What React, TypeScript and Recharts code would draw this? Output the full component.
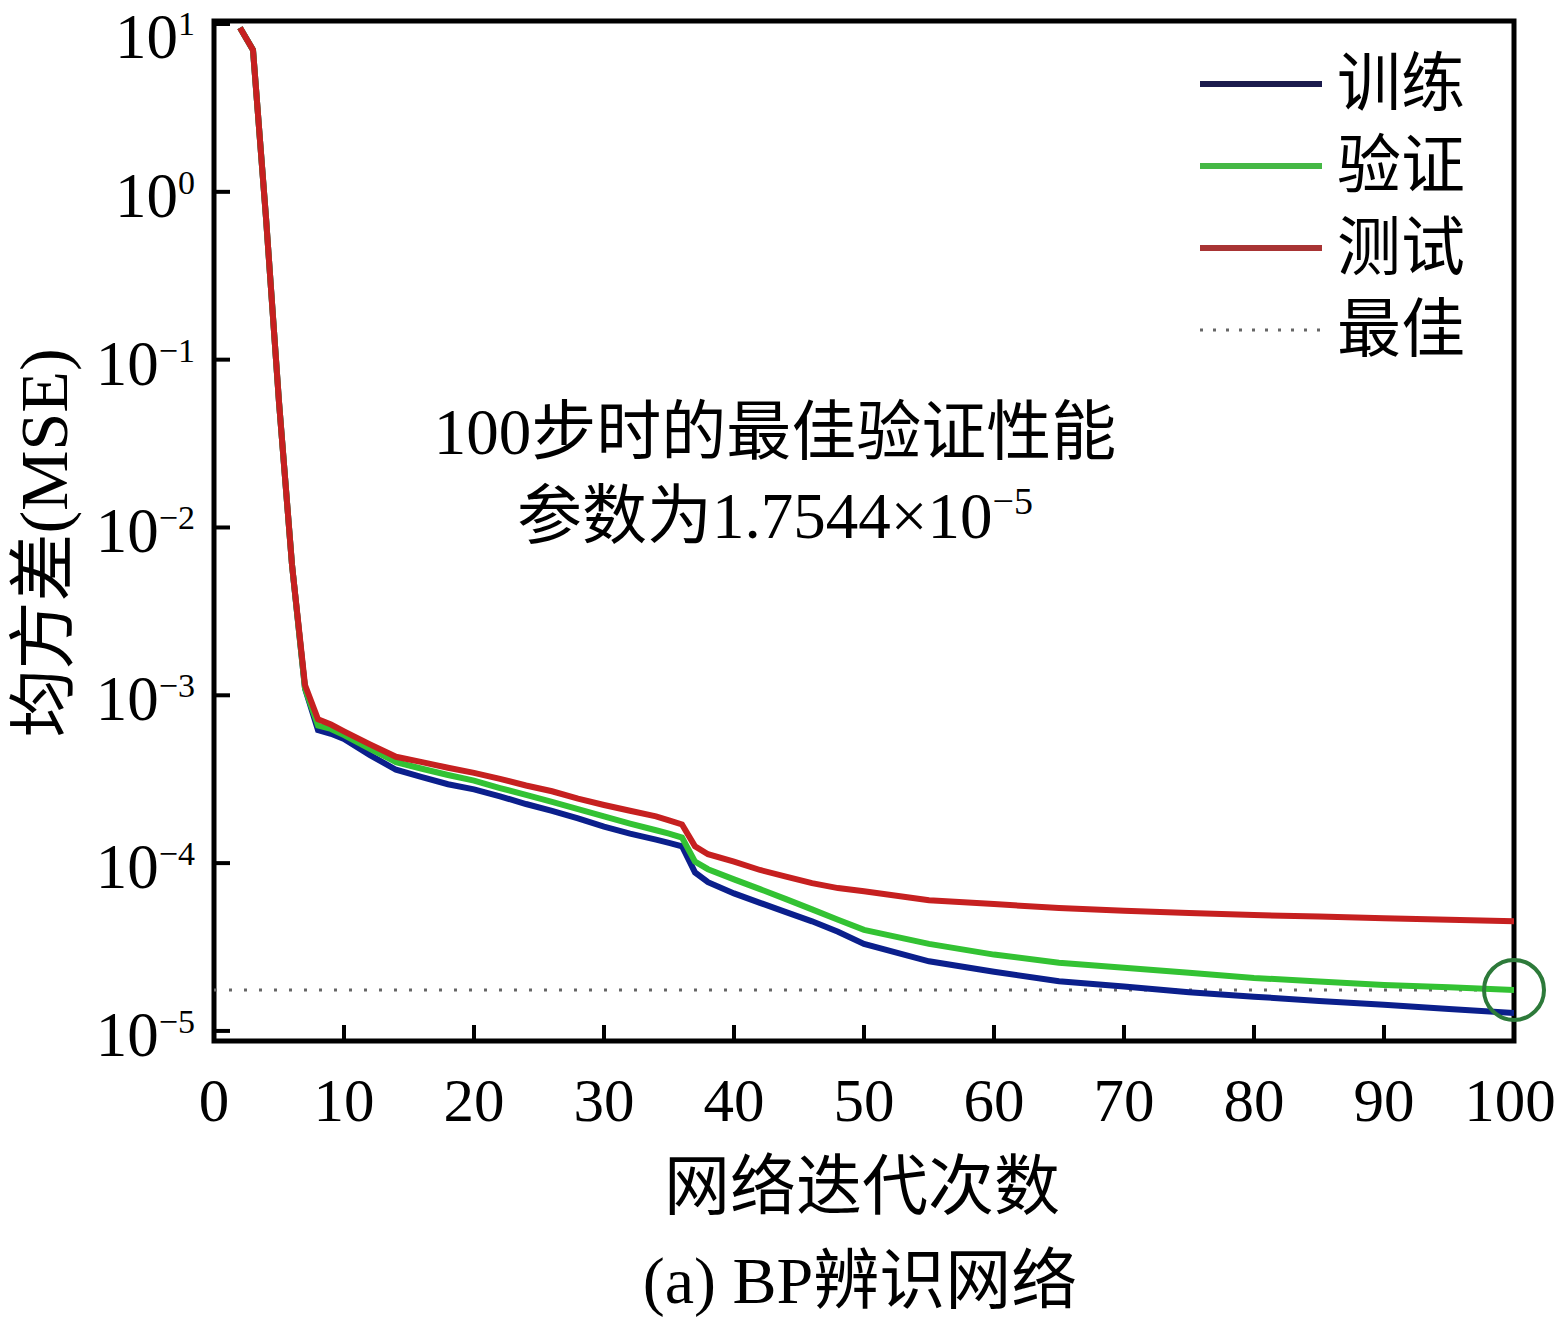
import React from 'react';
import { LineChart, Line, XAxis, YAxis, ReferenceLine, ReferenceDot, ReferenceArea } from 'recharts';

// epochs and MSE
const epochs = [2, 3, 4, 5, 6, 7, 8, 9, 10, 12, 14, 16, 18, 20, 22, 24, 26, 28, 30, 32, 34, 35, 36, 37, 38, 40, 42, 44, 46, 48, 50, 55, 60, 65, 70, 75, 80, 85, 90, 95, 100];

const trainMse = [9.5, 7.0, 0.7, 0.056, 0.006, 0.0011, 6.2e-4, 5.9e-4, 5.5e-4, 4.4e-4, 3.6e-4, 3.25e-4, 2.95e-4, 2.75e-4, 2.5e-4, 2.25e-4, 2.05e-4, 1.85e-4, 1.65e-4, 1.5e-4, 1.38e-4, 1.32e-4, 1.26e-4, 8.8e-5, 7.7e-5, 6.6e-5, 5.8e-5, 5.1e-5, 4.5e-5, 3.9e-5, 3.3e-5, 2.6e-5, 2.25e-5, 1.98e-5, 1.84e-5, 1.7e-5, 1.6e-5, 1.51e-5, 1.43e-5, 1.35e-5, 1.28e-5];

const validMse = [9.5, 7.0, 0.7, 0.056, 0.006, 0.0011, 6.6e-4, 6.3e-4, 5.8e-4, 4.8e-4, 4.0e-4, 3.65e-4, 3.35e-4, 3.1e-4, 2.8e-4, 2.55e-4, 2.32e-4, 2.1e-4, 1.9e-4, 1.72e-4, 1.57e-4, 1.5e-4, 1.42e-4, 1.02e-4, 9.2e-5, 8.0e-5, 7.0e-5, 6.1e-5, 5.3e-5, 4.6e-5, 4.0e-5, 3.3e-5, 2.85e-5, 2.55e-5, 2.38e-5, 2.22e-5, 2.07e-5, 1.97e-5, 1.88e-5, 1.82e-5, 1.7544e-5];

const testMse = [9.5, 7.0, 0.7, 0.056, 0.006, 0.00115, 7.2e-4, 6.7e-4, 6.1e-4, 5.1e-4, 4.3e-4, 4.0e-4, 3.7e-4, 3.45e-4, 3.18e-4, 2.9e-4, 2.68e-4, 2.42e-4, 2.22e-4, 2.05e-4, 1.9e-4, 1.8e-4, 1.7e-4, 1.26e-4, 1.13e-4, 1.02e-4, 9.1e-5, 8.3e-5, 7.6e-5, 7.1e-5, 6.8e-5, 6.0e-5, 5.7e-5, 5.4e-5, 5.2e-5, 5.05e-5, 4.9e-5, 4.8e-5, 4.7e-5, 4.6e-5, 4.5e-5];

const xTicks = [0, 10, 20, 30, 40, 50, 60, 70, 80, 90, 100];
const yTicks = [1e-5, 1e-4, 1e-3, 1e-2, 1e-1, 1, 10];

const bestEpoch = 100;
const bestValue = 1.7544e-5;

const legendItems = [
  { name: '训练', color: '#1b1b4d', dotted: false },
  { name: '验证', color: '#45b845', dotted: false },
  { name: '测试', color: '#a83434', dotted: false },
  { name: '最佳', color: '#666666', dotted: true },
];

const data = epochs.map((e, i) => ({ epoch: e, train: trainMse[i], valid: validMse[i], test: testMse[i] }));

const FONT = "'Liberation Serif', 'Noto Sans CJK SC', serif";
const yMin = Math.pow(10, -5.06);
const yMax = Math.pow(10, 1.018);

const XTick = (props: any) => {
  const { x, y, payload } = props;
  return (
    <g>
      <line x1={x} x2={x} y1={y} y2={y - 16} stroke="#000" strokeWidth={4} />
      <text x={payload.value === 100 ? x - 4 : x} y={y + 80} textAnchor="middle" fontFamily={FONT} fontSize={61} fill="#000">
        {payload.value}
      </text>
    </g>
  );
};

const YTick = (props: any) => {
  const { x, y, payload } = props;
  const exp = Math.round(Math.log10(payload.value));
  const sup = exp < 0 ? `\u2212${-exp}` : `${exp}`;
  // the top label sits against the frame edge, nudge it down a little
  const shift = exp === 1 ? 9 : 0;
  return (
    <g>
      <line x1={x} x2={x + 16} y1={y} y2={y} stroke="#000" strokeWidth={4} />
      <text x={x - 19} y={y + shift} textAnchor="end" fontFamily={FONT} fontSize={63} fill="#000">
        <tspan dy={25}>10</tspan>
        <tspan dy={-23} fontSize={34}>{sup}</tspan>
      </text>
    </g>
  );
};

export default function App() {
  return (
    <div style={{ position: 'absolute', left: 0, top: 0, width: 1557, height: 1320, background: '#fff', fontFamily: FONT }}>
      <LineChart width={1557} height={1320} data={data} margin={{ top: 21, right: 43, left: 0, bottom: 0 }}>
        <XAxis
          dataKey="epoch"
          type="number"
          domain={[0, 100]}
          ticks={xTicks}
          tick={<XTick />}
          tickSize={0}
          tickMargin={0}
          axisLine={false}
          tickLine={false}
          height={279}
          allowDataOverflow
        />
        <YAxis
          type="number"
          scale="log"
          domain={[yMin, yMax]}
          ticks={yTicks}
          tick={<YTick />}
          tickSize={0}
          tickMargin={0}
          axisLine={false}
          tickLine={false}
          width={214}
          allowDataOverflow
        />
        <ReferenceLine y={bestValue} stroke="#666" strokeWidth={3} strokeDasharray="3 12" />
        <Line type="linear" dataKey="train" stroke="#0b1f8c" strokeWidth={6} dot={false} isAnimationActive={false} />
        <Line type="linear" dataKey="valid" stroke="#33c233" strokeWidth={6} dot={false} isAnimationActive={false} />
        <Line type="linear" dataKey="test" stroke="#c62020" strokeWidth={6} dot={false} isAnimationActive={false} />
        <ReferenceDot x={bestEpoch} y={bestValue} r={30} fill="none" stroke="#2d7a3a" strokeWidth={4} ifOverflow="visible" />
        <ReferenceArea x1={0} x2={100} y1={yMin} y2={yMax} fill="none" stroke="#000" strokeWidth={5} ifOverflow="visible" />
      </LineChart>

      {/* legend */}
      <div style={{ position: 'absolute', left: 1200, top: 43 }}>
        {legendItems.map((it) => (
          <div key={it.name} style={{ display: 'flex', alignItems: 'center', height: 82 }}>
            <svg width={122} height={10} style={{ display: 'block' }}>
              {it.dotted ? (
                <line x1={0} x2={122} y1={5} y2={5} stroke={it.color} strokeWidth={3} strokeDasharray="3 10" />
              ) : (
                <line x1={0} x2={122} y1={5} y2={5} stroke={it.color} strokeWidth={6} />
              )}
            </svg>
            <span style={{ marginLeft: 15, fontSize: 64, lineHeight: '82px', color: '#000' }}>{it.name}</span>
          </div>
        ))}
      </div>

      {/* annotation */}
      <div style={{ position: 'absolute', left: 375, width: 800, top: 390, textAlign: 'center', fontSize: 65, lineHeight: '84px', color: '#000' }}>
        <div>100步时的最佳验证性能</div>
        <div>
          参数为1.7544×10<span style={{ fontSize: 38, position: 'relative', top: -24 }}>{'\u2212'}5</span>
        </div>
      </div>

      {/* y axis title */}
      <div
        style={{
          position: 'absolute',
          left: 37,
          top: 543,
          transform: 'translate(-50%, -50%) rotate(-90deg)',
          whiteSpace: 'nowrap',
          fontSize: 68,
          color: '#000',
        }}
      >
        均方差(MSE)
      </div>

      {/* x axis title */}
      <div style={{ position: 'absolute', left: 462, width: 800, top: 1132, textAlign: 'center', fontSize: 66, color: '#000' }}>
        网络迭代次数
      </div>

      {/* caption */}
      <div style={{ position: 'absolute', left: 460, width: 800, top: 1226, textAlign: 'center', fontSize: 66, color: '#000' }}>
        (a) BP辨识网络
      </div>
    </div>
  );
}
